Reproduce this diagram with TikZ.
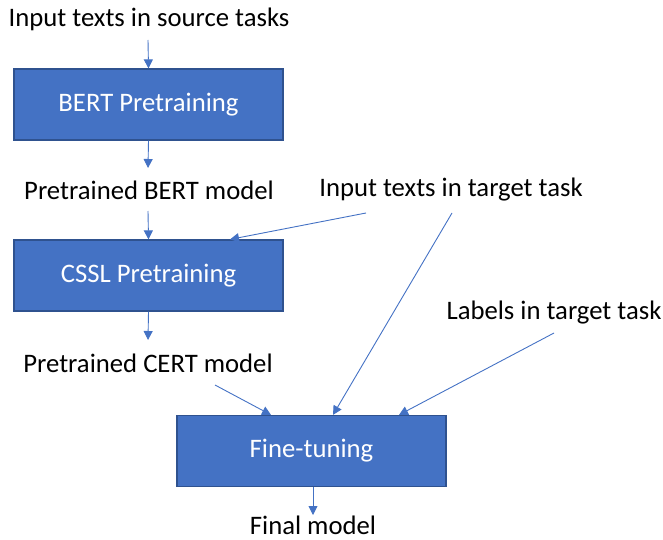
\documentclass[tikz,border=0pt]{standalone}
\usepackage{fontspec}
\setmainfont{Carlito}
\usetikzlibrary{arrows.meta}
\definecolor{boxfill}{HTML}{4472C4}
\definecolor{boxline}{HTML}{2F528F}
\definecolor{arr}{HTML}{4472C4}
\begin{document}
\begin{tikzpicture}[x=1pt,y=-1pt,
  lbl/.style={font=\fontsize{26.7}{30}\selectfont, text=black, inner sep=0pt},
  procbox/.style={draw=boxline, line width=1.2pt, fill=boxfill, minimum width=269pt, minimum height=71pt, inner sep=0pt, text=white, font=\fontsize{26.7}{30}\selectfont},
  conn/.style={draw=arr, line width=0.9pt, -{Triangle[width=9pt,length=9pt]}}]
\useasboundingbox (0,0) rectangle (663,540);
\node[lbl] (src) at (149,19) {Input texts in source tasks};
\node[procbox] (bert) at (148.5,104.5) {BERT Pretraining};
\node[lbl] (pbert) at (149,190) {Pretrained BERT model};
\node[lbl] (tgt) at (451,190) {Input texts in target task};
\node[procbox] (cssl) at (148.5,275.5) {CSSL Pretraining};
\node[lbl] (lab) at (554,313) {Labels in target task};
\node[lbl] (pcert) at (148,363) {Pretrained CERT model};
\node[procbox] (ft) at (311.5,451) {Fine-tuning};
\node[lbl] (fin) at (313,525.5) {Final model};
\coordinate (s1) at (148,40);
\coordinate (s3) at (148,211);
\coordinate (t1) at (366,213);
\coordinate (t2) at (452,213);
\coordinate (l1) at (554,333);
\coordinate (c1) at (215,385);
\coordinate (e2) at (148,168);
\coordinate (e4) at (148,340);
\coordinate (e9) at (313,515);
\draw[conn] (s1) -- (bert.north);
\draw[conn] (bert.south) -- (e2);
\draw[conn] (s3) -- (cssl.north);
\draw[conn] (t1) -- ([xshift=81.5pt]cssl.north);
\draw[conn] (cssl.south) -- (e4);
\draw[conn] (t2) -- ([xshift=21.5pt]ft.north);
\draw[conn] (l1) -- ([xshift=87.5pt]ft.north);
\draw[conn] (c1) -- ([xshift=-40.5pt]ft.north);
\draw[conn] ([xshift=1.5pt]ft.south) -- (e9);
\end{tikzpicture}
\end{document}
